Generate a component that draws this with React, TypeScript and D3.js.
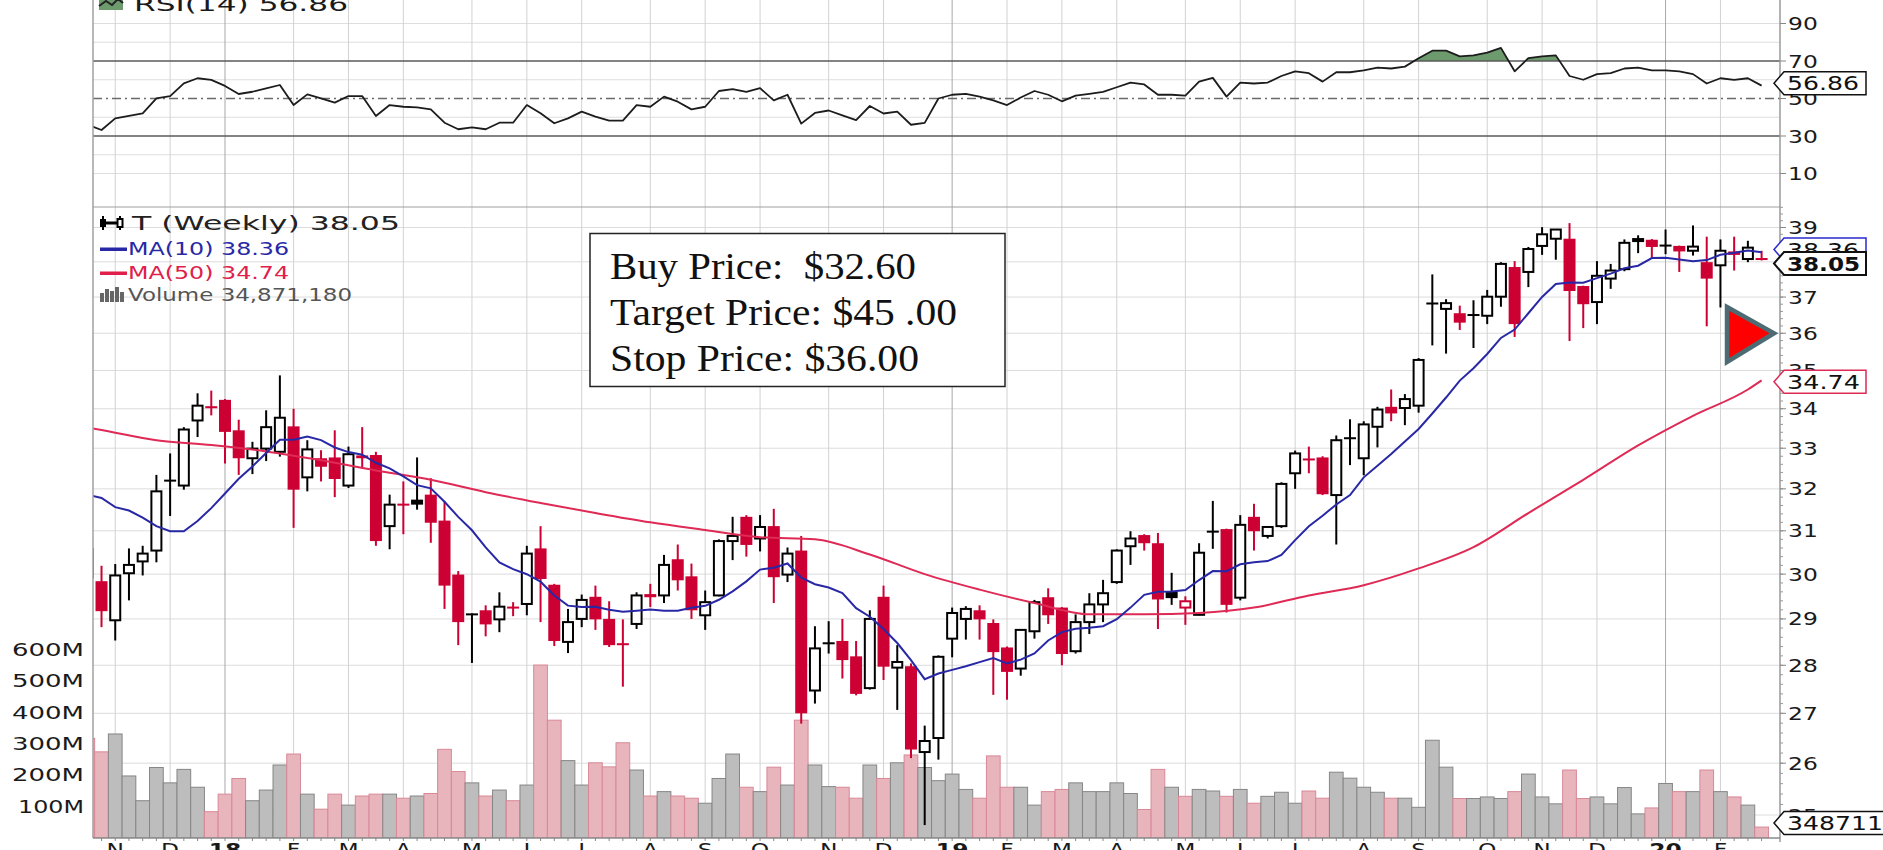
import React from 'react';
import * as d3 from 'd3';

const W = 1883;
const H = 850;
const SANS = "'DejaVu Sans', Verdana, sans-serif";
const SERIF = "'Liberation Serif', 'DejaVu Serif', serif";
const RED = '#cc0033';
const MA50C = '#de2a55';
const MA10C = '#2828a6';

// first weekly bar (index 0) is the one clipped at the left edge: week of 2017-10-23
const START = new Date(2017, 9, 23);

const opens = [30.6,
  29.84, 28.97, 30.02, 30.29, 30.54, 32.2, 32.08, 33.7, 34.04, 34.23,
  33.45, 32.75, 32.99, 32.91, 33.55, 32.28, 32.75, 32.77, 32.08, 32.82,
  32.83, 31.11, 31.62, 31.74, 31.86, 31.24, 29.99, 29.1, 29.19, 28.99,
  29.25, 29.33, 30.59, 29.76, 28.5, 29.0, 29.49, 29.0, 28.45, 28.89,
  29.55, 29.52, 30.34, 29.95, 29.08, 29.52, 30.76, 31.33, 30.82, 31.11,
  29.99, 30.54, 27.47, 28.47, 28.52, 28.19, 27.52, 29.49, 27.95, 27.98,
  26.22, 26.5, 28.57, 29.0, 29.19, 28.91, 28.38, 27.93, 28.73, 29.48,
  29.25, 28.3, 28.93, 29.32, 29.82, 30.64, 30.9, 30.71, 29.6, 29.25,
  29.09, 30.98, 31.04, 29.47, 31.33, 30.88, 31.11, 32.38, 32.72, 32.77,
  31.85, 33.25, 32.75, 33.54, 34.05, 34.02, 34.08, 36.82, 36.67, 36.55,
  36.5, 36.48, 37.01, 37.85, 37.71, 38.46, 38.67, 38.67, 37.31, 36.86,
  37.52, 37.79, 38.62, 38.64, 38.47, 38.46, 38.32, 37.99, 37.9, 38.3, 38.08, 38.08];

const highs = [30.9,
  30.19, 30.23, 30.59, 30.65, 32.34, 32.87, 33.53, 34.4, 34.47, 34.25,
  33.72, 33.16, 33.96, 34.87, 34.0, 33.2, 32.95, 33.45, 33.04, 33.53,
  32.91, 31.86, 32.18, 32.77, 32.26, 31.7, 30.07, 29.12, 29.3, 29.59,
  29.37, 30.65, 31.11, 29.78, 29.22, 29.54, 29.74, 29.39, 28.99, 29.59,
  29.78, 30.44, 30.68, 30.24, 29.63, 30.8, 31.33, 31.37, 31.37, 31.52,
  30.61, 30.88, 28.84, 28.95, 29.0, 28.52, 29.19, 29.74, 28.43, 28.04,
  26.75, 28.21, 29.25, 29.28, 29.3, 28.99, 28.4, 28.78, 29.42, 29.68,
  29.26, 29.1, 29.57, 29.87, 30.57, 30.99, 30.92, 30.95, 30.03, 29.5,
  30.71, 31.71, 31.05, 31.37, 31.64, 31.1, 32.16, 32.94, 33.04, 32.8,
  33.32, 33.73, 33.68, 34.05, 34.5, 34.38, 35.33, 37.64, 36.94, 36.76,
  36.91, 37.2, 37.99, 38.02, 38.43, 39.01, 38.95, 39.13, 37.32, 38.02,
  37.94, 38.65, 38.77, 38.66, 38.94, 38.47, 39.06, 38.73, 38.65, 38.73, 38.61, 38.32];

const lows = [29.7,
  28.82, 28.53, 29.41, 29.97, 30.27, 31.35, 31.98, 33.28, 33.83, 32.62,
  32.34, 32.36, 32.68, 32.79, 31.07, 31.94, 32.18, 31.8, 32.02, 32.5,
  30.65, 30.57, 30.92, 31.5, 30.72, 29.22, 28.43, 28.05, 28.62, 28.71,
  29.06, 29.08, 28.93, 28.41, 28.26, 28.82, 28.76, 28.39, 27.55, 28.78,
  29.26, 29.35, 29.63, 29.0, 28.76, 29.5, 30.32, 30.4, 30.52, 29.35,
  29.82, 26.79, 27.2, 28.25, 27.72, 27.37, 27.49, 27.69, 27.07, 26.1,
  24.81, 26.07, 28.17, 28.55, 28.55, 27.38, 27.28, 27.78, 28.57, 28.89,
  28.0, 28.25, 28.67, 28.93, 29.78, 30.21, 30.54, 28.78, 29.31, 28.87,
  29.08, 30.58, 29.14, 29.41, 30.54, 30.82, 31.07, 32.0, 32.38, 31.85,
  30.68, 32.58, 32.33, 33.02, 33.68, 33.58, 33.9, 35.67, 35.45, 36.09,
  35.6, 36.25, 36.73, 35.9, 37.28, 38.2, 38.06, 35.79, 36.14, 36.25,
  37.23, 37.73, 38.25, 38.1, 38.22, 37.71, 38.18, 36.19, 36.71, 37.75, 37.99, 38.04];

const closes = [29.9,
  29.17, 29.97, 30.21, 30.47, 31.94, 32.16, 33.47, 34.08, 34.0, 33.41,
  32.75, 32.99, 33.53, 33.77, 31.98, 32.97, 32.54, 32.24, 32.85, 32.75,
  30.76, 31.62, 31.58, 31.62, 31.19, 29.74, 28.93, 29.08, 28.88, 29.27,
  29.22, 30.47, 29.89, 28.52, 28.93, 29.42, 28.99, 28.43, 28.42, 29.52,
  29.48, 30.21, 29.86, 29.19, 29.37, 30.76, 30.88, 30.67, 31.09, 29.93,
  30.47, 27.0, 28.36, 28.45, 28.11, 27.4, 29.0, 27.97, 28.07, 26.27,
  26.44, 28.18, 29.13, 29.22, 28.99, 28.28, 27.86, 28.76, 29.37, 29.08,
  28.24, 28.93, 29.32, 29.57, 30.54, 30.82, 30.71, 29.43, 29.46, 29.39,
  30.49, 30.96, 29.31, 31.14, 30.99, 31.09, 32.12, 32.87, 32.7, 31.87,
  33.2, 33.22, 33.6, 33.98, 33.88, 34.25, 35.28, 36.8, 36.83, 36.29,
  36.47, 37.01, 37.94, 36.25, 38.37, 38.8, 38.94, 37.17, 36.8, 37.6,
  37.75, 38.55, 38.66, 38.43, 38.45, 38.3, 38.44, 37.52, 38.32, 38.2, 38.41, 38.05];

// weekly volume, millions of shares
const volumes = [318,
  275, 332, 198, 119, 225, 176, 219, 162, 84, 140,
  190, 119, 153, 233, 268, 140, 92, 140, 105, 134,
  140, 140, 127, 134, 142, 283, 212, 176, 134, 153,
  119, 169, 552, 376, 247, 169, 240, 227, 304, 217,
  134, 148, 134, 127, 111, 190, 268, 162, 148, 226,
  169, 376, 233, 164, 162, 127, 233, 190, 240, 265,
  225, 183, 204, 155, 127, 262, 162, 162, 105, 148,
  155, 176, 148, 148, 176, 142, 91, 219, 162, 133,
  155, 150, 133, 155, 111, 133, 146, 111, 150, 127,
  210, 191, 162, 146, 127, 127, 98, 312, 226, 126,
  126, 131, 126, 148, 204, 131, 109, 217, 126, 131,
  109, 161, 77, 96, 174, 148, 148, 217, 148, 131, 105, 34.87];

const rsi14 = [36,
  33.2, 39.4, 40.7, 42.1, 50.1, 51.3, 58.1, 60.8, 59.9, 56.7,
  52.4, 53.6, 55.4, 57.2, 46.5, 52.2, 50.1, 47.8, 51.3, 51.3,
  40.7, 46.5, 45.6, 45.3, 44.2, 37.1, 33.6, 34.6, 33.6, 37.1,
  37.1, 46.5, 42.1, 36.8, 39.4, 43.0, 40.3, 38.2, 38.2, 46.5,
  45.6, 51.0, 48.3, 44.2, 45.6, 54, 55, 53.5, 55.5, 49,
  52, 36.6, 42.3, 43.6, 41, 38.5, 46, 42, 43, 36,
  37, 50, 52, 52.5, 51, 49, 46.5, 50.5, 54, 52,
  48.5, 51.5, 52.5, 53.5, 56, 58.5, 57.5, 52, 52, 51.5,
  59, 61, 51, 58.5, 58, 58.5, 62, 64.5, 63.5, 59,
  64, 64, 65, 66.5, 66, 67, 71.5, 75.5, 75.5, 72.5,
  73, 74.5, 77, 64.5, 71.5, 72.5, 73, 62, 60, 63,
  63.5, 66, 66.5, 65, 65, 64.5, 63, 58, 60.8, 59.9, 60.8, 56.86];

// MA(10) for the first bars (needs history before the window)
const ma10Lead = [31.86, 31.78, 31.56, 31.48, 31.31, 31.11, 30.99, 30.99, 31.23];

// MA(50) at these bar indices
const ma50Bars = [0, 1, 5, 9, 13, 17, 21, 25, 29, 33, 37, 41, 45, 49, 53, 57, 61, 65, 69, 73,
  77, 81, 85, 89, 93, 97, 101, 105, 109, 113, 117, 121, 122];
const ma50 = [33.52, 33.46, 33.2, 33.08, 32.92, 32.7, 32.45, 32.22, 31.92, 31.66, 31.42, 31.2,
  31.02, 30.85, 30.8, 30.45, 30.0, 29.65, 29.35, 29.1, 29.1, 29.13, 29.25, 29.52, 29.75, 30.13,
  30.62, 31.42, 32.22, 33.07, 33.82, 34.5, 34.74];

const priceTicks = [25, 26, 27, 28, 29, 30, 31, 32, 33, 34, 35, 36, 37, 38, 39];
const rsiTicks = [90, 70, 50, 30, 10];
const rsiGrid = [10, 20, 40, 60, 80, 90];
const volTicks = [100, 200, 300, 400, 500, 600];
const volTickLabels = ['100M', '200M', '300M', '400M', '500M', '600M'];
const monthLetters = ['J', 'F', 'M', 'A', 'M', 'J', 'J', 'A', 'S', 'O', 'N', 'D'];

const legendRows = ['T (Weekly) 38.05', 'MA(10) 38.36', 'MA(50) 34.74', 'Volume 34,871,180'];
const noteLines = ['Buy Price:  $32.60', 'Target Price: $45 .00', 'Stop Price: $36.00'];

const PL = 93;
const PR = 1780;
const SEP = 207;
const PB = 838;

function Txt(props: any) {
  const { x, y, w, size, anchor = 'start', weight = 'normal', fill = '#1a1a1a', family = SANS, children } = props;
  return (
    <text x={x} y={y} fontSize={size} textAnchor={anchor} fontWeight={weight} fill={fill}
      fontFamily={family} textLength={w} lengthAdjust="spacingAndGlyphs" style={{ whiteSpace: 'pre' }}>
      {children}
    </text>
  );
}

function SText(props: any) {
  const { x, y, sx = 1.33, size, anchor = 'start', weight = 'normal', fill = '#1a1a1a', children } = props;
  return (
    <text transform={`translate(${x},${y}) scale(${sx},1)`} fontSize={size} textAnchor={anchor}
      fontWeight={weight} fill={fill} fontFamily={SANS}>
      {children}
    </text>
  );
}

function Tag(props: any) {
  const { cy, stroke, sw = 1.5, text, bold = false, w = 72, right = 1866, fill = '#111' } = props;
  const h = 11.5;
  const pts = `1774,${cy} 1784,${cy - h} ${right},${cy - h} ${right},${cy + h} 1784,${cy + h}`;
  return (
    <g>
      <polygon points={pts} fill="#fff" stroke={stroke} strokeWidth={sw} />
      <Txt x={1787} y={cy + 7} w={w} size={19} weight={bold ? 'bold' : 'normal'} fill={fill}>{text}</Txt>
    </g>
  );
}

export default function App() {
  const n = closes.length;
  const x = d3.scaleLinear().domain([0, n - 1]).range([87.8, 1761.6]);
  const yP = d3.scaleLog().domain([25, 39]).range([815, 227.5]);
  const yV = d3.scaleLinear().domain([0, 600]).range([PB, 650]);
  const yR = d3.scaleLinear().domain([30, 70]).range([136, 61]);

  const ma10 = closes.map((c, i) =>
    i < ma10Lead.length ? ma10Lead[i] : (d3.mean(closes.slice(i - 9, i + 1)) as number));

  const dates = closes.map((_, i) => d3.timeDay.offset(START, 7 * i));
  const months = dates
    .map((d, i) => ({ d, i }))
    .filter(({ d, i }) => i > 0 && d.getMonth() !== dates[i - 1].getMonth());

  const ma10Path = d3.line<number>().x((_, i) => x(i)).y((d) => yP(d))(ma10) || '';
  const ma50Path = d3.line<number>().x((_, k) => x(ma50Bars[k])).y((d) => yP(d))
    .curve(d3.curveMonotoneX)(ma50) || '';
  const rsiPath = d3.line<number>().x((_, i) => x(i)).y((d) => yR(d))(rsi14) || '';
  const rsiArea = d3.area<number>().x((_, i) => x(i)).y0(yR(70)).y1((d) => yR(d))(rsi14) || '';

  const minorPrice = d3.range(25, 39.7, 0.2);

  return (
    <svg width={W} height={H} viewBox={`0 0 ${W} ${H}`}
      style={{ position: 'absolute', left: 0, top: 0, background: '#fff' }}>
      <defs>
        <clipPath id="priceClip"><rect x={PL} y={SEP} width={PR - PL} height={PB - SEP} /></clipPath>
        <clipPath id="rsiClip"><rect x={PL} y={-20} width={PR - PL} height={SEP + 20} /></clipPath>
        <clipPath id="above70"><rect x={PL} y={-20} width={PR - PL} height={yR(70) + 20} /></clipPath>
      </defs>
      <rect x={0} y={0} width={W} height={H} fill="#fff" />

      {/* RSI panel grid */}
      {rsiGrid.map((v) => (
        <line key={'rg' + v} x1={PL} x2={PR} y1={yR(v)} y2={yR(v)} stroke="#dedede" strokeWidth={1} />
      ))}
      {/* price grid */}
      {priceTicks.map((p) => (
        <line key={'pg' + p} x1={PL} x2={PR} y1={yP(p)} y2={yP(p)} stroke="#dcdcdc" strokeWidth={1} />
      ))}
      {/* month grid */}
      {months.map(({ d, i }) => (
        <line key={'mg' + i} x1={x(i)} x2={x(i)} y1={0} y2={PB}
          stroke={d.getMonth() === 0 ? '#a8a8a8' : '#d2d2d2'} strokeWidth={1} />
      ))}

      {/* RSI */}
      <g clipPath="url(#rsiClip)">
        <path d={rsiArea} fill="#6d9b6d" clipPath="url(#above70)" />
        <line x1={PL} x2={PR} y1={yR(70)} y2={yR(70)} stroke="#5a5a5a" strokeWidth={1.5} />
        <line x1={PL} x2={PR} y1={yR(30)} y2={yR(30)} stroke="#5a5a5a" strokeWidth={1.5} />
        <line x1={PL} x2={PR} y1={yR(50)} y2={yR(50)} stroke="#6a6a6a" strokeWidth={1.3}
          strokeDasharray="9,4,2,4" />
        <path d={rsiPath} fill="none" stroke="#1c1c1c" strokeWidth={1.8} strokeLinejoin="round" />
      </g>
      <line x1={PL} x2={PR} y1={SEP} y2={SEP} stroke="#a0a0a0" strokeWidth={1.2} />

      {/* volume + candles */}
      <g clipPath="url(#priceClip)">
        {volumes.map((v, i) => {
          const prev = i > 0 ? closes[i - 1] : opens[0];
          const down = closes[i] < prev;
          return (
            <rect key={'v' + i} x={x(i) - 6.86} width={13.72} y={yV(v)} height={PB - yV(v)}
              fill={down ? '#e8b5bd' : '#bdbdbd'} stroke={down ? '#d88896' : '#868686'} strokeWidth={1} />
          );
        })}
        {closes.map((c, i) => {
          const o = opens[i];
          const prev = i > 0 ? closes[i - 1] : opens[0];
          const col = c >= prev ? '#000' : RED;
          const hollow = c > o;
          const cx = x(i);
          const yt = yP(Math.max(o, c));
          const yb = yP(Math.min(o, c));
          const bh = Math.max(yb - yt, 2);
          return (
            <g key={'c' + i}>
              <line x1={cx} x2={cx} y1={yP(highs[i])} y2={yP(lows[i])} stroke={col} strokeWidth={2} />
              {hollow ? (
                <rect x={cx - 5} width={10} y={yt} height={Math.max(bh, 1)} fill="#fff" stroke={col} strokeWidth={2} />
              ) : (
                <rect x={cx - 6} width={12} y={yt - (bh === 2 ? 1 : 0)} height={bh} fill={col} />
              )}
            </g>
          );
        })}
        <path d={ma50Path} fill="none" stroke={MA50C} strokeWidth={2} />
        <path d={ma10Path} fill="none" stroke={MA10C} strokeWidth={2} />
      </g>

      {/* frame */}
      <line x1={PL} x2={PL} y1={0} y2={PB} stroke="#a0a0a0" strokeWidth={1.5} />
      <line x1={PR} x2={PR} y1={0} y2={PB + 4} stroke="#9a9a9a" strokeWidth={1.5} />
      <line x1={PL} x2={PR} y1={PB} y2={PB} stroke="#8a8a8a" strokeWidth={1.5} />

      {/* bottom ticks + labels */}
      {closes.map((_, i) => (x(i) > PL ? (
        <line key={'bt' + i} x1={x(i)} x2={x(i)} y1={PB} y2={PB + 3} stroke="#888" strokeWidth={1} />
      ) : null))}
      {months.map(({ d, i }) => (
        <SText key={'ml' + i} x={x(i)} y={856} size={18} anchor="middle" sx={1.3}
          weight={d.getMonth() === 0 ? 'bold' : 'normal'}>
          {d.getMonth() === 0 ? String(d.getFullYear()).slice(2) : monthLetters[d.getMonth()]}
        </SText>
      ))}

      {/* right axis ticks */}
      {minorPrice.map((p, k) => (
        <line key={'mt' + k} x1={PR} x2={PR + 3} y1={yP(p)} y2={yP(p)} stroke="#999" strokeWidth={1} />
      ))}
      {priceTicks.map((p) => (
        <line key={'pt' + p} x1={PR} x2={PR + 6} y1={yP(p)} y2={yP(p)} stroke="#888" strokeWidth={1} />
      ))}
      {rsiTicks.map((v) => (
        <line key={'rt' + v} x1={PR} x2={PR + 6} y1={yR(v)} y2={yR(v)} stroke="#888" strokeWidth={1} />
      ))}
      {priceTicks.map((p) => (
        <SText key={'pl' + p} x={1788} y={yP(p) + 6.5} size={18} sx={1.3}>{String(p)}</SText>
      ))}
      {rsiTicks.map((v) => (
        <SText key={'rl' + v} x={1788} y={yR(v) + 6.5} size={18} sx={1.3}>{String(v)}</SText>
      ))}

      {/* volume axis labels */}
      {volTicks.map((v, k) => (
        <Txt key={'vl' + v} x={84} y={yV(v) + 6} w={k === 0 ? 66 : 72} size={17} anchor="end">
          {volTickLabels[k]}
        </Txt>
      ))}

      {/* RSI legend */}
      <rect x={99} y={-4} width={24} height={14} fill="#6d9b6d" />
      <polyline points="99,6 106,1 112,5 118,-1 123,3" fill="none" stroke="#222" strokeWidth={2} />
      <Txt x={134} y={11} w={214} size={20}>RSI(14) 56.86</Txt>

      {/* price legend */}
      <g>
        <line x1={103} x2={103} y1={216} y2={230} stroke="#000" strokeWidth={2} />
        <rect x={100} y={219} width={6} height={8} fill="#000" />
        <line x1={106} x2={117} y1={223} y2={223} stroke="#000" strokeWidth={3} />
        <line x1={120} x2={120} y1={216} y2={230} stroke="#000" strokeWidth={2} />
        <rect x={117.5} y={219} width={5} height={8} fill="#fff" stroke="#000" strokeWidth={2} />
      </g>
      <Txt x={132} y={230} w={268} size={20} fill="#222">{legendRows[0]}</Txt>
      <rect x={100} y={247.5} width={27} height={3.5} fill={MA10C} />
      <Txt x={128} y={254.5} w={161} size={17} fill={MA10C}>{legendRows[1]}</Txt>
      <rect x={100} y={271.5} width={27} height={3.5} fill="#e0204a" />
      <Txt x={128} y={278.5} w={161} size={17} fill="#e0204a">{legendRows[2]}</Txt>
      <g fill="#666">
        <rect x={100} y={293} width={4} height={9} />
        <rect x={105} y={289} width={4} height={13} />
        <rect x={110} y={291} width={4} height={11} />
        <rect x={115} y={287} width={4} height={15} />
        <rect x={120} y={292} width={4} height={10} />
      </g>
      <Txt x={128} y={301} w={224} size={17} fill="#555">{legendRows[3]}</Txt>

      {/* annotation */}
      <rect x={590} y={233.5} width={415} height={153} fill="#fff" stroke="#222" strokeWidth={1.5} />
      <Txt x={610} y={279} w={306} size={37} family={SERIF} fill="#111">{noteLines[0]}</Txt>
      <Txt x={610} y={325} w={347} size={37} family={SERIF} fill="#111">{noteLines[1]}</Txt>
      <Txt x={610} y={371} w={309} size={37} family={SERIF} fill="#111">{noteLines[2]}</Txt>

      {/* stop marker */}
      <polygon points={`1727,307 1774,${yP(36)} 1727,362`} fill="#ff0000" stroke="#4d6b72"
        strokeWidth={4.5} strokeLinejoin="miter" />

      {/* value tags */}
      <Tag cy={83.3} stroke="#111" text="56.86" />
      <Tag cy={249.5} stroke="#2a2ad0" text="38.36" />
      <Tag cy={263.5} stroke="#111" sw={2} text="38.05" bold w={73} />
      <Tag cy={381.7} stroke={MA50C} text="34.74" w={73} />
      <Tag cy={823} stroke="#111" text="34871180" w={128} right={1900} />
    </svg>
  );
}
